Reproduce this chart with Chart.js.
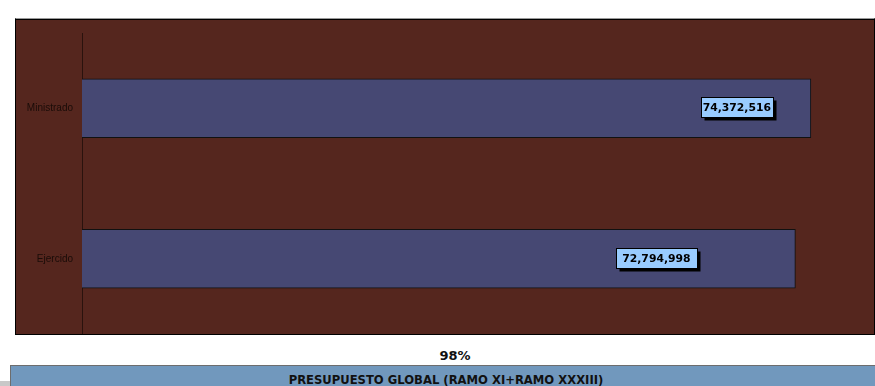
<!DOCTYPE html>
<html>
<head>
<meta charset="utf-8">
<script src="https://cdn.jsdelivr.net/npm/chart.js@4"></script>
<style>
  body { margin: 0; background: #fff; width: 875px; height: 386px; overflow: hidden; position: relative; font-family: "DejaVu Sans", sans-serif; }
  #frame { position: absolute; left: 15px; top: 18px; width: 858px; height: 315px; background: #55261e; border: 1px solid #000; border-top: 1px solid #9a9a9a; box-shadow: inset 0 1px 0 #000; }
  #clip { position: absolute; left: 16px; top: 20px; width: 858px; height: 314px; overflow: hidden; }
  #pct { position: absolute; left: 0; width: 910px; top: 348px; text-align: center; font-weight: bold; font-size: 13px; color: #111; }
  #band { position: absolute; left: 10px; top: 365px; width: 870px; height: 21px; background: #7198bd; border-top: 1px solid #6d6d6d; border-left: 1px solid #6d6d6d; text-align: center; font-weight: bold; font-size: 11.6px; line-height: 28px; color: #111; }
  #stub { position: absolute; left: 0; top: 381px; width: 10px; height: 5px; background: #c8c8c8; }
</style>
</head>
<body>
<div id="frame"></div>
<div id="clip"><canvas id="chart" width="858" height="321"></canvas></div>
<div id="pct">98%</div>
<div id="stub"></div>
<div id="band">PRESUPUESTO GLOBAL (RAMO XI+RAMO XXXIII)</div>
<script>
const CATEGORIES = ["Ministrado", "Ejercido"];
const VALUES = [74372516, 72794998];
const AXIS_MAX = 80000000;

// label boxes were dragged by hand in the original, offset from the bar end
const LABEL_SHIFT = [-74, -139];
const LABEL_PAD = [4, 13];

const valueBoxes = {
  id: "valueBoxes",
  afterDatasetsDraw(chart) {
    const ctx = chart.ctx;
    const meta = chart.getDatasetMeta(0);
    ctx.save();
    ctx.font = "bold 10.8px 'DejaVu Sans'";
    ctx.textAlign = "center";
    ctx.textBaseline = "middle";
    meta.data.forEach((bar, i) => {
      const text = VALUES[i].toLocaleString("en-US");
      const cx = bar.x + LABEL_SHIFT[i];
      const cy = bar.y - 1;
      const w = Math.round(ctx.measureText(text).width) + LABEL_PAD[i];
      const h = 20;
      const x0 = Math.round(cx - w / 2) + 0.5;
      const y0 = Math.round(cy - h / 2) + 0.5;
      ctx.fillStyle = "#000";
      ctx.fillRect(x0 + 3, y0 + 3, w, h);
      ctx.fillStyle = "#99ccff";
      ctx.fillRect(x0, y0, w, h);
      ctx.strokeStyle = "#000";
      ctx.lineWidth = 1;
      ctx.strokeRect(x0, y0, w, h);
      ctx.fillStyle = "#000";
      ctx.fillText(text, cx, cy + 1);
    });
    ctx.restore();
  }
};

new Chart(document.getElementById("chart"), {
  type: "bar",
  data: {
    labels: CATEGORIES,
    datasets: [{
      data: VALUES,
      backgroundColor: "#464873",
      borderColor: "#111",
      borderWidth: 1,
      borderSkipped: "left",
      barThickness: 59
    }]
  },
  options: {
    indexAxis: "y",
    responsive: false,
    animation: false,
    devicePixelRatio: 1,
    layout: { padding: { top: 13, right: 8, bottom: 0, left: 0 } },
    plugins: { legend: { display: false }, tooltip: { enabled: false } },
    scales: {
      x: { display: false, min: 0, max: AXIS_MAX },
      y: {
        afterFit(scale) { scale.width = 66; },
        grid: { display: false },
        border: { display: true, color: "#2a120d", width: 1 },
        ticks: { color: "#1a0c08", padding: 1, font: { family: "Liberation Sans", size: 10 } }
      }
    }
  },
  plugins: [valueBoxes]
});
</script>
</body>
</html>
